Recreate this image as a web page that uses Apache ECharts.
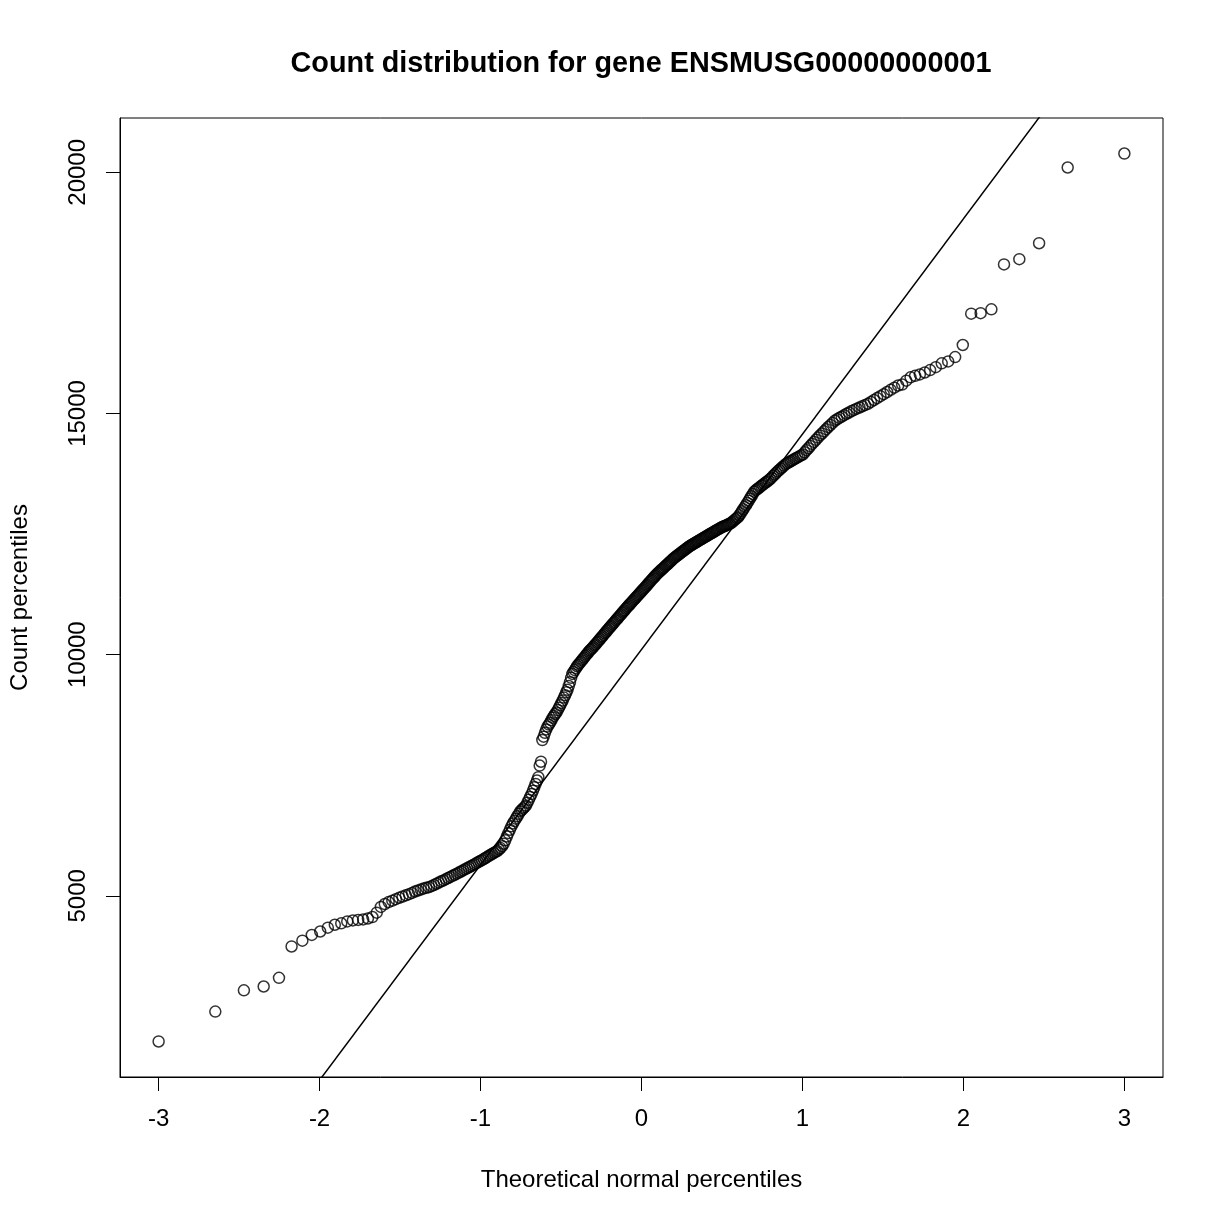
<!DOCTYPE html>
<html>
<head>
<meta charset="utf-8">
<title>Count distribution for gene ENSMUSG00000000001</title>
<script src="https://cdn.jsdelivr.net/npm/echarts@6/dist/echarts.min.js"></script>
<style>
  html, body { margin: 0; padding: 0; background: #fff; }
  #chart { width: 1224px; height: 1224px; }
</style>
</head>
<body>
<div id="chart"></div>
<script>
// sorted sample percentiles (counts)
var countPercentiles = [
  1980, 2600, 3040, 3120, 3300, 3950, 4070, 4190, 4260, 4340, 4400, 4430, 4470, 4490, 4500, 4510, 4530, 4560, 4650, 4770,
  4830, 4870, 4900, 4930, 4960, 4985, 5010, 5035, 5060, 5090,
  5110, 5130, 5150, 5165, 5180, 5200, 5225, 5250, 5275, 5300, 5320, 5345, 5370,
  5392, 5415, 5437, 5460, 5482, 5505, 5527, 5550, 5570, 5592, 5613, 5635, 5656, 5678, 5700, 5720,
  5740, 5762, 5785, 5807, 5830, 5850, 5870, 5890, 5910, 5930, 5960, 5990, 6030, 6080,
  6150, 6230, 6300, 6370, 6440, 6500, 6550, 6600, 6650, 6700, 6750, 6780, 6810, 6840, 6870,
  6930, 6990, 7050, 7110, 7180, 7250, 7320, 7390, 7460, 7700, 7780,
  8230, 8300, 8380, 8450, 8510, 8550, 8590, 8640, 8690, 8730, 8770, 8800, 8850, 8900, 8950, 9000,
  9050, 9110, 9160, 9220, 9270, 9350, 9430, 9520, 9600, 9640, 9680, 9720, 9760, 9790, 9820, 9850,
  9880, 9910, 9940, 9970, 10000, 10030, 10060, 10090, 10110, 10135, 10160,
  10190, 10215, 10245, 10270, 10300, 10325, 10355, 10380, 10410, 10440, 10465, 10495, 10520, 10550,
  10575, 10600, 10630, 10655, 10680, 10710, 10735, 10760, 10790, 10815, 10840, 10870, 10895, 10920, 10950,
  10975, 11000, 11025, 11050, 11075, 11100, 11125, 11150, 11175, 11200, 11225, 11250, 11275, 11300,
  11325, 11350, 11375, 11400, 11425, 11450, 11480, 11505, 11530, 11555, 11580, 11605, 11630, 11655, 11680,
  11700, 11720, 11745, 11765, 11785, 11805, 11830, 11850, 11870, 11890, 11915, 11935, 11955, 11980, 12000,
  12018, 12036, 12054, 12071, 12089, 12107, 12125, 12143, 12161, 12179, 12196, 12214, 12232, 12250,
  12264, 12279, 12293, 12307, 12321, 12336, 12350, 12364, 12379, 12393, 12407, 12421, 12436, 12450,
  12465, 12479, 12494, 12508, 12523, 12537, 12552, 12567, 12581, 12596, 12610, 12625, 12640,
  12650, 12662, 12673, 12685, 12697, 12708, 12720, 12740, 12760, 12785, 12805, 12830, 12850,
  12890, 12930, 12975, 13015, 13060, 13100, 13145, 13190, 13240, 13285, 13330, 13380,
  13405, 13430, 13450, 13475, 13500, 13520, 13545, 13570, 13590, 13615, 13640,
  13670, 13705, 13735, 13770, 13800, 13830, 13860, 13890, 13920, 13950,
  13970, 13990, 14010, 14030, 14050, 14070, 14090, 14110, 14130, 14150,
  14195, 14240, 14280, 14325, 14370, 14410, 14455, 14500,
  14545, 14585, 14630, 14675, 14720, 14760, 14805, 14850,
  14880, 14910, 14935, 14965, 14995, 15020, 15050, 15075, 15100, 15125, 15150, 15175, 15200,
  15240, 15280, 15320, 15360, 15400, 15445, 15490, 15535, 15580,
  15600, 15680, 15750, 15780, 15810, 15850, 15900, 15960, 16040, 16080,
  16170, 16420, 17070, 17080, 17160, 18090, 18200, 18530, 20100, 20390
];
var xTicks = [-3, -2, -1, 0, 1, 2, 3];
var yTicks = [5000, 10000, 15000, 20000];
// reference line (qqline)
var lineIntercept = 10107;
var lineSlope = 4465;

// inverse normal cdf (Acklam)
function qnorm(p) {
  var a = [-3.969683028665376e+01, 2.209460984245205e+02, -2.759285104469687e+02, 1.383577518672690e+02, -3.066479806614716e+01, 2.506628277459239e+00];
  var b = [-5.447609879822406e+01, 1.615858368580409e+02, -1.556989798598866e+02, 6.680131188771972e+01, -1.328068155288572e+01];
  var c = [-7.784894002430293e-03, -3.223964580411365e-01, -2.400758277161838e+00, -2.549732539343734e+00, 4.374664141464968e+00, 2.938163982698783e+00];
  var d = [7.784695709041462e-03, 3.224671290700398e-01, 2.445134137142996e+00, 3.754408661907416e+00];
  var plow = 0.02425, q, r;
  if (p < plow) {
    q = Math.sqrt(-2 * Math.log(p));
    return (((((c[0] * q + c[1]) * q + c[2]) * q + c[3]) * q + c[4]) * q + c[5]) /
      ((((d[0] * q + d[1]) * q + d[2]) * q + d[3]) * q + 1);
  }
  if (p <= 1 - plow) {
    q = p - 0.5; r = q * q;
    return (((((a[0] * r + a[1]) * r + a[2]) * r + a[3]) * r + a[4]) * r + a[5]) * q /
      (((((b[0] * r + b[1]) * r + b[2]) * r + b[3]) * r + b[4]) * r + 1);
  }
  q = Math.sqrt(-2 * Math.log(1 - p));
  return -(((((c[0] * q + c[1]) * q + c[2]) * q + c[3]) * q + c[4]) * q + c[5]) /
    ((((d[0] * q + d[1]) * q + d[2]) * q + d[3]) * q + 1);
}

var n = countPercentiles.length;
var off = n <= 10 ? 3 / 8 : 1 / 2;
var points = countPercentiles.map(function (v, i) {
  return [qnorm((i + 1 - off) / (n + 1 - 2 * off)), v];
});

// R style 4% padding
var xs = points.map(function (p) { return p[0]; });
var xMin = Math.min.apply(null, xs), xMax = Math.max.apply(null, xs);
var yMin = Math.min.apply(null, countPercentiles), yMax = Math.max.apply(null, countPercentiles);
var xPad = (xMax - xMin) * 0.04, yPad = (yMax - yMin) * 0.04;
xMin -= xPad; xMax += xPad; yMin -= yPad; yMax += yPad;

var refLine = [
  [xMin, lineIntercept + lineSlope * xMin],
  [xMax, lineIntercept + lineSlope * xMax]
];

var font = 'Liberation Sans, Arial, Helvetica, sans-serif';
var chart = echarts.init(document.getElementById('chart'));
chart.setOption({
  backgroundColor: '#fff',
  animation: false,
  title: {
    text: 'Count distribution for gene ENSMUSG00000000001',
    left: 636,
    top: 45,
    textAlign: 'center',
    textStyle: { fontFamily: font, fontSize: 28.8, fontWeight: 'bold', color: '#000' }
  },
  grid: {
    left: 118, right: 61, top: 118, bottom: 147,
    show: true, borderColor: '#000', borderWidth: 1, backgroundColor: 'transparent'
  },
  xAxis: {
    type: 'value',
    min: xMin, max: xMax,
    name: 'Theoretical normal percentiles',
    nameLocation: 'middle',
    nameGap: 91,
    nameTextStyle: { fontFamily: font, fontSize: 24, color: '#000' },
    axisLine: { show: true, onZero: false, lineStyle: { color: '#000', width: 1 } },
    axisTick: { show: true, length: 14, customValues: xTicks, lineStyle: { color: '#000', width: 1 } },
    axisLabel: { customValues: xTicks, margin: 30, fontFamily: font, fontSize: 24, color: '#000' },
    splitLine: { show: false }
  },
  yAxis: {
    type: 'value',
    min: yMin, max: yMax,
    name: 'Count percentiles',
    nameLocation: 'middle',
    nameGap: 88,
    nameTextStyle: { fontFamily: font, fontSize: 24, color: '#000' },
    axisLine: { show: true, onZero: false, lineStyle: { color: '#000', width: 1 } },
    axisTick: { show: true, length: 14, customValues: yTicks, lineStyle: { color: '#000', width: 1 } },
    axisLabel: {
      customValues: yTicks, rotate: 90, margin: 30,
      formatter: function (v) { return String(v); },
      fontFamily: font, fontSize: 24, color: '#000'
    },
    splitLine: { show: false }
  },
  series: [
    {
      type: 'scatter',
      data: points,
      symbol: 'circle',
      symbolSize: 11,
      itemStyle: { color: 'transparent', borderColor: '#000', borderWidth: 1.5 },
      silent: true
    },
    {
      type: 'line',
      data: refLine,
      symbol: 'none',
      clip: true,
      lineStyle: { color: '#000', width: 1.5 },
      silent: true
    }
  ]
});
</script>
</body>
</html>
